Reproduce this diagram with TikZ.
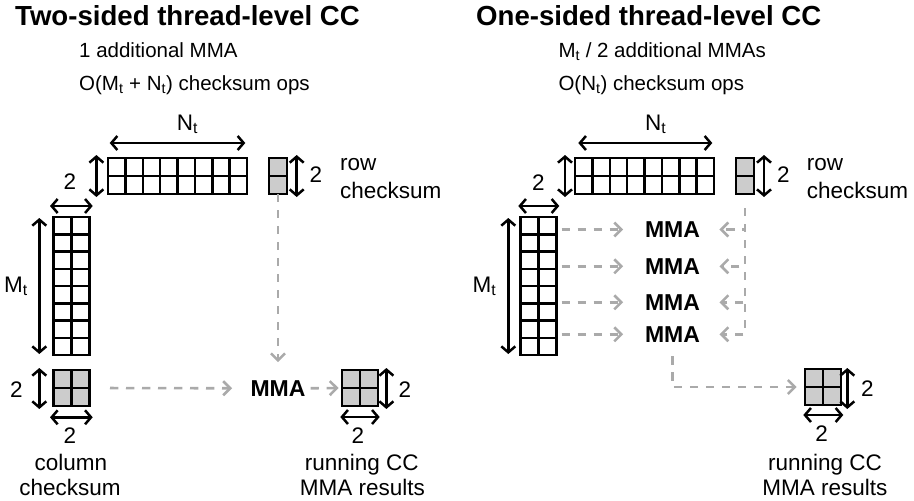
\documentclass[tikz,border=0pt]{standalone}
\usepackage{fontspec}
\setmainfont{Liberation Sans}
\usetikzlibrary{arrows.meta,calc}

\definecolor{cellgray}{HTML}{CCCCCC}
\definecolor{flowgray}{HTML}{AAAAAA}

% internal cell lines of a block node: name, columns, rows
\newcommand\cellgrid[3]{%
  \ifnum#2>1
    \foreach \i in {2,...,#2}{%
      \pgfmathsetmacro\frac{(\i-1)/#2}%
      \draw[gridline] ($(#1.north west)!\frac!(#1.north east)$) -- ($(#1.south west)!\frac!(#1.south east)$);}%
  \fi
  \ifnum#3>1
    \foreach \i in {2,...,#3}{%
      \pgfmathsetmacro\frac{(\i-1)/#3}%
      \draw[gridline] ($(#1.north west)!\frac!(#1.south west)$) -- ($(#1.north east)!\frac!(#1.south east)$);}%
  \fi}

\begin{document}
\begin{tikzpicture}[x=1pt,y=-1pt,
  every node/.style={font=\fontsize{22.5}{26}\selectfont, inner sep=0pt},
  subtitle/.style={font=\fontsize{20.5}{24}\selectfont},
  title/.style={font=\fontsize{27.6}{32}\selectfont\bfseries},
  mmalabel/.style={font=\fontsize{23}{27}\selectfont\bfseries, inner sep=0pt},
  block/.style={draw=black, line width=2.5pt, fill=white, inner sep=0pt, outer sep=0pt},
  sumblock/.style={block, fill=cellgray},
  gridline/.style={line width=2.5pt, black},
  dim/.style={line width=2.5pt, {Straight Barb[length=6pt,width=14pt]}-{Straight Barb[length=6pt,width=14pt]}},
  flow/.style={flowgray, line width=2.6pt, dash pattern=on 8.3pt off 7.7pt, -{Straight Barb[length=7pt,width=14pt]}}
]
\useasboundingbox (0,0) rectangle (914,501);

% ================= two-sided =================
\node[title, anchor=base west] (titleL) at (15,25) {Two-sided thread-level CC};
\node[subtitle, anchor=base west] (subL1) at (79,57.3) {1 additional MMA};
\node[subtitle, anchor=base west] (subL2) at (79,90.7) {O(M\textsubscript{t} + N\textsubscript{t}) checksum ops};

\node[block, minimum width=139pt, minimum height=36pt] (topL) at (177.5,176) {};
\cellgrid{topL}{8}{2}
\node[sumblock, minimum width=18pt, minimum height=36pt] (rowL) at (278,176) {};
\cellgrid{rowL}{1}{2}
\node[block, minimum width=36pt, minimum height=138pt] (colL) at (71.3,286) {};
\cellgrid{colL}{2}{8}
\node[sumblock, minimum width=36pt, minimum height=36pt] (ccL) at (71.3,388) {};
\cellgrid{ccL}{2}{2}
\node[mmalabel] (mmaL) at (278,388.3) {MMA};
\node[sumblock, minimum width=36pt, minimum height=36pt] (resL) at (360,388) {};
\cellgrid{resL}{2}{2}

% dimensions
\draw[dim] ([xshift=1.7pt,yshift=15pt]topL.north west) -- ([xshift=-1.7pt,yshift=15pt]topL.north east);
\node[anchor=base west] (ntL) at (176.7,130) {N\textsubscript{t}};
\draw[dim] ([xshift=-11.6pt,yshift=3pt]topL.north west) -- ([xshift=-11.6pt,yshift=-3pt]topL.south west);
\node (twoTL) at (70,182) {2};
\draw[dim] ([xshift=-3.3pt,yshift=11pt]colL.north west) -- ([xshift=3.4pt,yshift=11pt]colL.north east);
\draw[dim] ([xshift=-14pt,yshift=-1pt]colL.north west) -- ([xshift=-14pt,yshift=1pt]colL.south west);
\node[anchor=base west] (mtL) at (4,292) {M\textsubscript{t}};
\draw[dim] ([xshift=9.7pt,yshift=3pt]rowL.north east) -- ([xshift=9.7pt,yshift=-3pt]rowL.south east);
\node (twoRL) at (316,175) {2};
\node[anchor=base west] (rowtxtL) at (340,170) {row};
\node[anchor=base west] (rowtxtL2) at (340,198.3) {checksum};

\draw[dim] ([xshift=-14pt,yshift=2pt]ccL.north west) -- ([xshift=-14pt,yshift=-3pt]ccL.south west);
\node (twoCL1) at (16.3,390) {2};
\draw[dim] ([xshift=-3.3pt,yshift=-11.3pt]ccL.south west) -- ([xshift=3.4pt,yshift=-11.3pt]ccL.south east);
\node (twoCL2) at (70,435.8) {2};
\node[anchor=base] (coltxt1) at (70.8,470) {column};
\node[anchor=base] (coltxt2) at (70,495) {checksum};

\draw[dim] ([xshift=8.4pt,yshift=2pt]resL.north east) -- ([xshift=8.4pt,yshift=-3pt]resL.south east);
\node (twoEL1) at (405,390) {2};
\draw[dim] ([xshift=-1.7pt,yshift=-11pt]resL.south west) -- ([xshift=1.7pt,yshift=-11pt]resL.south east);
\node (twoEL2) at (358,436) {2};
\node[anchor=base] (restxtL1) at (361.7,470) {running CC};
\node[anchor=base] (restxtL2) at (362.5,495) {MMA results};

% data flow
\draw[flow, shorten <=20.7pt, shorten >=18.3pt] (ccL.east) -- (mmaL.west);
\draw[flow, shorten >=18pt] (rowL.south) -- (mmaL.north);
\draw[flow, shorten <=5pt, shorten >=3.4pt] (mmaL.east) -- (resL.west);

% ================= one-sided =================
\node[title, anchor=base west] (titleR) at (476,25) {One-sided thread-level CC};
\node[subtitle, anchor=base west] (subR1) at (558.3,57.3) {M\textsubscript{t} / 2 additional MMAs};
\node[subtitle, anchor=base west] (subR2) at (558.3,90.7) {O(N\textsubscript{t}) checksum ops};

\node[block, minimum width=139pt, minimum height=36pt] (topR) at (644.5,176) {};
\cellgrid{topR}{8}{2}
\node[sumblock, minimum width=18pt, minimum height=36pt] (rowR) at (745,176) {};
\cellgrid{rowR}{1}{2}
\node[block, minimum width=36pt, minimum height=138pt] (colR) at (538.7,286) {};
\cellgrid{colR}{2}{8}
\node[mmalabel] (mmaR1) at (672.5,229.5) {MMA};
\node[mmalabel] (mmaR2) at (672.5,266.3) {MMA};
\node[mmalabel] (mmaR3) at (672.5,302.3) {MMA};
\node[mmalabel] (mmaR4) at (672.5,334.3) {MMA};
\node[sumblock, minimum width=36pt, minimum height=36pt] (resR) at (823,387) {};
\cellgrid{resR}{2}{2}

% dimensions
\draw[dim] ([xshift=3.3pt,yshift=15pt]topR.north west) -- ([xshift=-1.7pt,yshift=15pt]topR.north east);
\node[anchor=base west] (ntR) at (645,130) {N\textsubscript{t}};
\draw[dim] ([xshift=-10pt,yshift=3pt]topR.north west) -- ([xshift=-10pt,yshift=-3pt]topR.south west);
\node (twoTR) at (538.3,183) {2};
\draw[dim] ([xshift=-2.4pt,yshift=11pt]colR.north west) -- ([xshift=2.6pt,yshift=11pt]colR.north east);
\draw[dim] ([xshift=-12.4pt,yshift=-1pt]colR.north west) -- ([xshift=-12.4pt,yshift=1pt]colR.south west);
\node[anchor=base west] (mtR) at (472.5,292) {M\textsubscript{t}};
\draw[dim] ([xshift=10pt,yshift=3pt]rowR.north east) -- ([xshift=10pt,yshift=-3pt]rowR.south east);
\node (twoRR) at (783.3,175) {2};
\node[anchor=base west] (rowtxtR) at (806.7,170) {row};
\node[anchor=base west] (rowtxtR2) at (806.7,198.3) {checksum};

\draw[dim] ([xshift=6.3pt,yshift=1pt]resR.north east) -- ([xshift=6.3pt,yshift=-4pt]resR.south east);
\node (twoER1) at (867.3,389) {2};
\draw[dim] ([xshift=-1.7pt,yshift=-10pt]resR.south west) -- ([xshift=2.3pt,yshift=-10pt]resR.south east);
\node (twoER2) at (821.7,434) {2};
\node[anchor=base] (restxtR1) at (825,470) {running CC};
\node[anchor=base] (restxtR2) at (825,495) {MMA results};

% data flow
\foreach \k in {1,2,3,4}{
  \draw[flow, shorten <=5pt, shorten >=21.7pt] (colR.east |- mmaR\k.center) -- (mmaR\k.west);
  \draw[flow, shorten <=14pt, shorten >=19.3pt] (rowR.south) |- (mmaR\k.east);
}
\draw[flow, shorten <=14pt, shorten >=8.3pt] (mmaR4.south) |- (resR.west);
\end{tikzpicture}
\end{document}
